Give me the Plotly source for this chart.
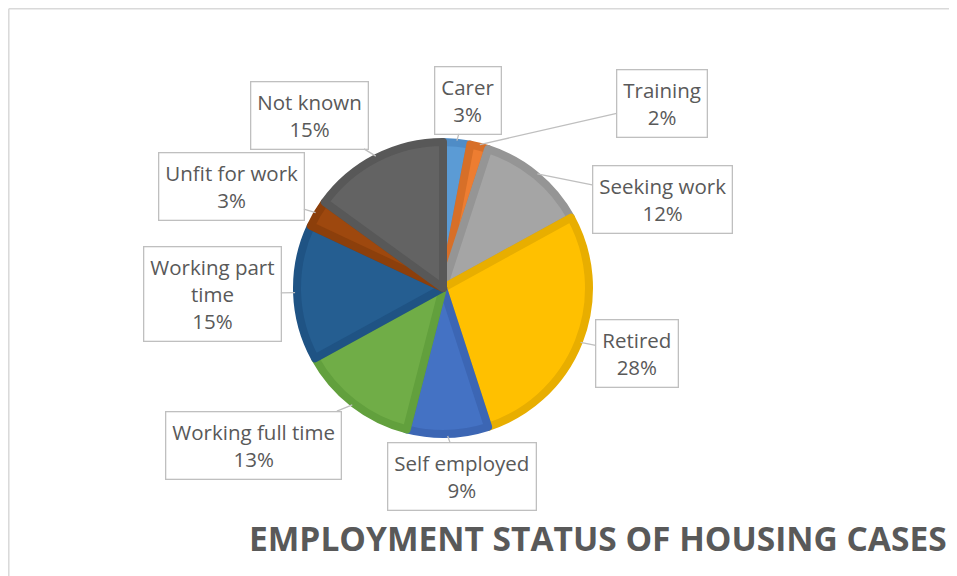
import math
import plotly.graph_objects as go

categories = ["Carer", "Training", "Seeking work", "Retired", "Self employed",
              "Working full time", "Working part time", "Unfit for work", "Not known"]
values = [3, 2, 12, 28, 9, 13, 15, 3, 15]
label_texts = ["Carer<br>3%", "Training<br>2%", "Seeking work<br>12%", "Retired<br>28%",
               "Self employed<br>9%", "Working full time<br>13%", "Working part<br>time<br>15%",
               "Unfit for work<br>3%", "Not known<br>15%"]
fill_colors = ["#5B9BD5", "#ED7D31", "#A5A5A5", "#FFC000", "#4472C4",
               "#70AD47", "#255E91", "#9E480E", "#636363"]
edge_colors = ["#4F8CC6", "#D76F28", "#959595", "#E8AE00", "#3C66B4",
               "#62A03D", "#1F5384", "#8C3F0B", "#585858"]
# label box centres in window pixels (layout)
label_pos = [(468, 100), (662, 103), (662, 199), (637, 353), (462, 476),
             (253, 445), (212, 294), (231, 187), (309, 115)]

OFF = 8  # page body margin
W, H = 957 - OFF, 576 - OFF
cx, cy, R = 443 - OFF, 288 - OFF, 146

fig = go.Figure(go.Pie(
    labels=categories, values=values, sort=False, direction="clockwise",
    rotation=0, textinfo="none", hoverinfo="label+percent",
    marker=dict(colors=fill_colors, line=dict(color=edge_colors, width=8)),
    domain=dict(x=[(cx - R) / W, (cx + R) / W], y=[1 - (cy + R) / H, 1 - (cy - R) / H]),
    showlegend=False,
))

total = sum(values)
cum = 0
annotations = []
for v, txt, (bx, by) in zip(values, label_texts, label_pos):
    bx, by = bx - OFF, by - OFF
    mid = cum + v / 2
    cum += v
    th = math.radians(90 - 360 * mid / total)
    px = cx + (R + 2) * math.cos(th)
    py = cy - (R + 2) * math.sin(th)
    annotations.append(dict(
        x=px / W, y=1 - py / H, xref="paper", yref="paper",
        ax=bx - px, ay=by - py, axref="pixel", ayref="pixel",
        text=txt, showarrow=True, arrowhead=0, arrowwidth=1.3, arrowcolor="#BFBFBF",
        font=dict(family="Open Sans", size=20.5, color="#595959"),
        bgcolor="white", bordercolor="#BFBFBF", borderwidth=1.3, borderpad=6,
        align="center",
    ))

annotations.append(dict(
    x=(598 - OFF) / W, y=1 - (538 - OFF) / H, xref="paper", yref="paper", showarrow=False,
    xanchor="center", yanchor="middle",
    text="<b>EMPLOYMENT STATUS OF HOUSING CASES</b>",
    font=dict(family="Open Sans", size=33.5, color="#595959"),
))

fig.update_layout(
    width=W, height=H, margin=dict(l=0, r=0, t=0, b=0),
    paper_bgcolor="white", plot_bgcolor="white",
    annotations=annotations,
    shapes=[
        dict(type="line", xref="paper", yref="paper", x0=0.8 / W, x1=1.0, y0=1 - 0.8 / H, y1=1 - 0.8 / H,
             line=dict(color="#D9D9D9", width=1.5)),
        dict(type="line", xref="paper", yref="paper", x0=0.8 / W, x1=0.8 / W, y0=0, y1=1 - 0.8 / H,
             line=dict(color="#D9D9D9", width=1.5)),
    ],
)

fig.write_html("out.html")
